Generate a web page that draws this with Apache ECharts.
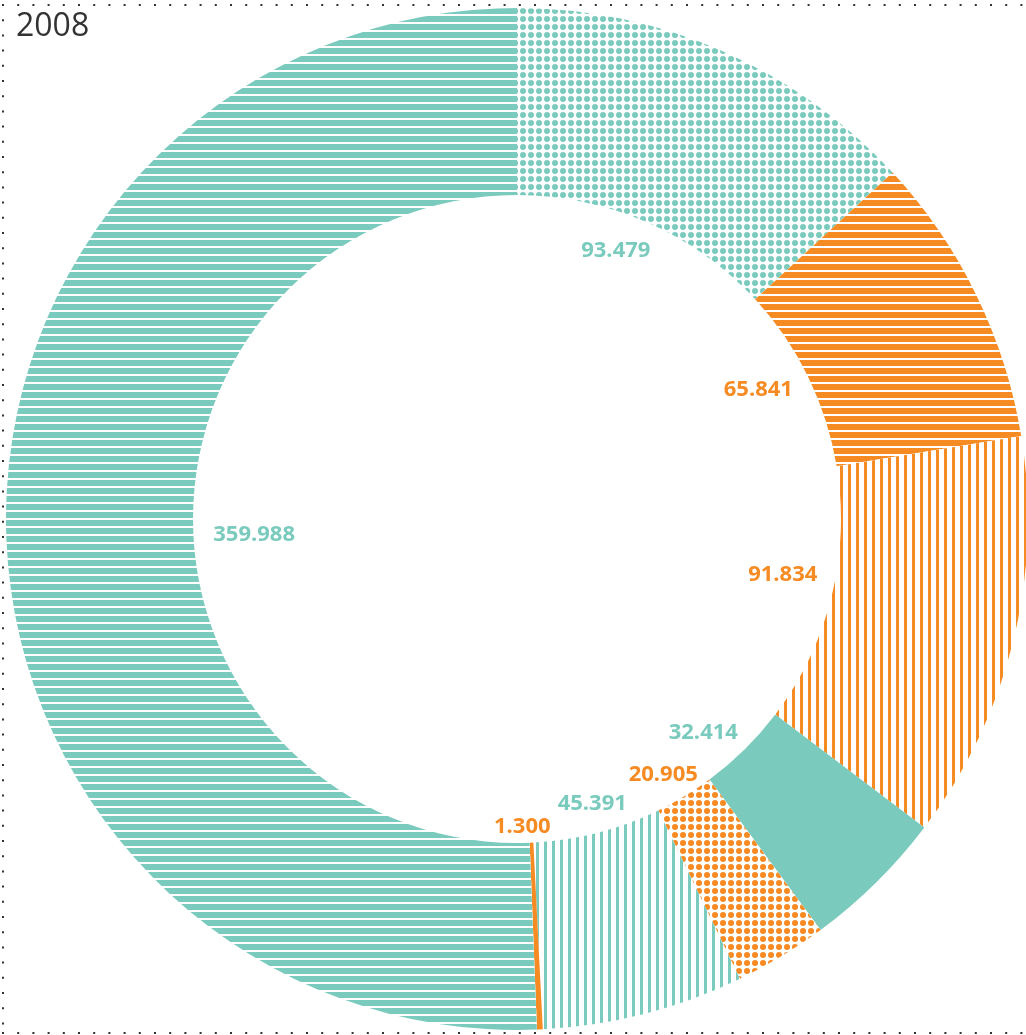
<!DOCTYPE html>
<html><head><meta charset="utf-8">
<script src="https://cdn.jsdelivr.net/npm/echarts@6/dist/echarts.min.js"></script>
<style>html,body{margin:0;padding:0;background:#fff}#c{width:1026px;height:1035px}</style>
</head><body><div id="c"></div>
<script>
// ---- data ----
const chartTitle = '2008';
const valueLabels = ['93.479', '65.841', '91.834', '32.414', '20.905', '45.391', '1.300', '359.988'];
const values = [93.479, 65.841, 91.834, 32.414, 20.905, 45.391, 1.300, 359.988];
const colorGroups = ['teal', 'orange', 'orange', 'teal', 'orange', 'teal', 'orange', 'teal'];
const fillPatterns = ['dots', 'hlines', 'vlines', 'solid', 'dots', 'vlines', 'solid', 'hlines'];

// ---- styles ----
const COLORS = { teal: '#7acbbd', orange: '#f68b23' };
const CX = 517, CY = 519, R_IN = 324, R_OUT = 511, LABEL_R = 310;
// small label nudges (px) to follow the reference's hand placement
const labelNudge = [[-16, -6], [-5, -9], [0, -10], [-9, 16], [0, 14], [3, 3], [-8, 10], [6, 10]];

function decalFor(kind, color) {
  if (kind === 'dots') return { symbol: 'circle', symbolSize: 1, dashArrayX: [6, 2], dashArrayY: [6, 2], color: color, rotation: 0 };
  if (kind === 'hlines') return { symbol: 'rect', symbolSize: 1, dashArrayX: [1, 0], dashArrayY: [6, 2], color: color, rotation: 0 };
  if (kind === 'vlines') return { symbol: 'rect', symbolSize: 1, dashArrayX: [3, 5], dashArrayY: [1, 0], color: color, rotation: 0 };
  return null;
}

const pieData = values.map((v, i) => {
  const col = COLORS[colorGroups[i]];
  const kind = fillPatterns[i];
  const item = { value: v, name: valueLabels[i], label: { color: col } };
  if (kind === 'solid') item.itemStyle = { color: col };
  else item.itemStyle = { color: '#ffffff', decal: decalFor(kind, col) };
  return item;
});

const chart = echarts.init(document.getElementById('c'), null, { renderer: 'canvas' });
const dotStyle = { stroke: '#333333', lineWidth: 2, lineDash: [2, 13.2] };
chart.setOption({
  animation: false,
  backgroundColor: '#ffffff',
  title: {
    text: chartTitle, left: 11, top: 6,
    textStyle: { fontFamily: 'Open Sans', fontWeight: 'normal', fontSize: 32, color: '#333333' }
  },
  graphic: [
    { type: 'line', silent: true, shape: { x1: 2, y1: 5, x2: 1026, y2: 5 }, style: dotStyle },
    { type: 'line', silent: true, shape: { x1: 3, y1: 4, x2: 3, y2: 1035 }, style: dotStyle },
    { type: 'line', silent: true, shape: { x1: 2, y1: 1033, x2: 1026, y2: 1033 }, style: dotStyle }
  ],
  series: [{
    type: 'pie',
    center: [CX, CY],
    radius: [R_IN, R_OUT],
    startAngle: 90,
    clockwise: true,
    silent: true,
    avoidLabelOverlap: false,
    minShowLabelAngle: 0,
    itemStyle: { borderWidth: 0 },
    label: {
      show: true, position: 'inside',
      formatter: p => valueLabels[p.dataIndex],
      fontFamily: 'Open Sans', fontWeight: 'bold', fontSize: 22
    },
    labelLine: { show: false },
    labelLayout: function (params) {
      const r = params.labelRect;
      const mx = r.x + r.width / 2, my = r.y + r.height / 2;
      let dx = mx - CX, dy = my - CY;
      const len = Math.sqrt(dx * dx + dy * dy) || 1;
      dx /= len; dy /= len;
      const t = LABEL_R - (r.width / 2 * Math.abs(dx) + r.height / 2 * Math.abs(dy));
      const n = labelNudge[params.dataIndex] || [0, 0];
      return { x: CX + t * dx + n[0], y: CY + t * dy + n[1], align: 'center', verticalAlign: 'middle' };
    },
    data: pieData
  }]
});
</script>
</body></html>
